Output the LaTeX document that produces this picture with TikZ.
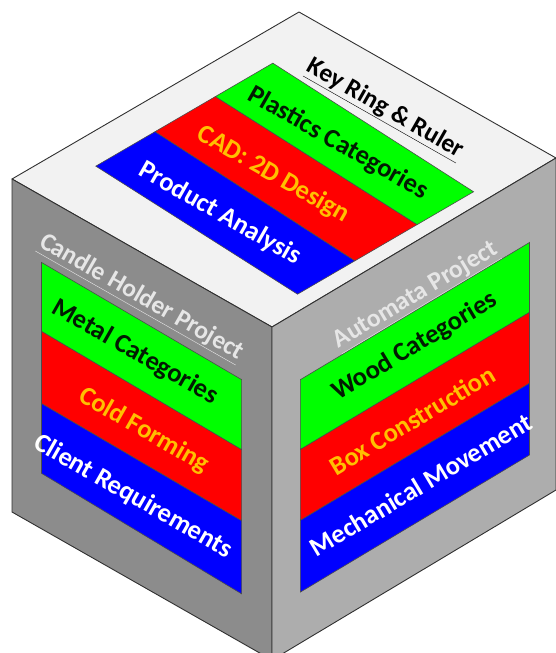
\documentclass[tikz,border=0pt]{standalone}
\usepackage{fontspec}
\setmainfont{Carlito}
\definecolor{topc}{HTML}{F2F2F2}
\definecolor{leftc}{HTML}{8C8C8C}
\definecolor{rightc}{HTML}{ADADAD}
\definecolor{gstripe}{HTML}{00FF00}
\definecolor{rstripe}{HTML}{FF0000}
\definecolor{bstripe}{HTML}{0000FF}
\definecolor{orangetxt}{HTML}{FFC000}
\definecolor{darkgtxt}{HTML}{021A02}
\definecolor{headwc}{HTML}{E6E6E6}
\definecolor{edgec}{HTML}{303030}
\begin{document}
\begin{tikzpicture}[x=1pt,y=1pt,
  face/.style={draw=edgec,line width=0.9pt,line join=round},
  gbox/.style={fill=gstripe,draw=black!70,line width=0.6pt},
  rbox/.style={fill=rstripe,draw=black!70,line width=0.6pt},
  bbox/.style={fill=bstripe,draw=black!70,line width=0.6pt},
  lbl/.style={inner sep=0pt,font=\fontsize{26.5}{30}\selectfont\bfseries},
  hlbl/.style={inner sep=0pt,font=\fontsize{25.5}{30}\selectfont\bfseries},
  gtxt/.style={lbl,text=darkgtxt},
  rtxt/.style={lbl,text=orangetxt},
  btxt/.style={lbl,text=white},
  headw/.style={hlbl,text=headwc},
  headk/.style={hlbl,text=black},
  downrot/.style={rotate=-29.65},
  uprot/.style={rotate=30.9}]
\useasboundingbox (0,0) rectangle (556,-653);
\coordinate (T) at (299,-12);
\coordinate (L) at (12,-179);
\coordinate (F) at (272,-327);
\coordinate (R) at (556,-158);
\coordinate (LB) at (12,-512);
\coordinate (FB) at (272,-660);
\coordinate (RB) at (556,-490);
\filldraw[face,fill=topc] (L)--(T)--(R)--(F)--cycle;
\filldraw[face,fill=leftc] (L)--(F)--(FB)--(LB)--cycle;
\filldraw[face,fill=rightc] (F)--(R)--(RB)--(FB)--cycle;
% top face
\begin{scope}[cm={0.86667,-0.49333,0.95667,0.55667,(12,-179)}]
  \filldraw[bbox] (36,55) -- (282,43) -- (282,103) -- (36,117) -- cycle;
  \filldraw[rbox] (36,117) -- (282,103) -- (282,168) -- (36,180) -- cycle;
  \filldraw[gbox] (36,180) -- (282,168) -- (282,227) -- (36,240) -- cycle;
  \node[gtxt,downrot] (pc) at (154,201) {Plastics Categories};
  \node[rtxt,downrot] (cad) at (148,139) {CAD: 2D Design};
  \node[btxt,downrot] (pa) at (156,76) {Product Analysis};
  \node[headk,downrot] (kr) at (148,256) {\underline{Key Ring \& Ruler}};
\end{scope}
% left face
\begin{scope}[cm={0.86667,-0.49333,0,1.11,(12,-512)}]
  \filldraw[bbox] (34,50) -- (265,44) -- (265,110) -- (34,113) -- cycle;
  \filldraw[rbox] (34,113) -- (265,110) -- (265,174) -- (34,178) -- cycle;
  \filldraw[gbox] (34,178) -- (265,174) -- (265,237) -- (34,240) -- cycle;
  \node[headw,downrot] (ch) at (149,259) {\underline{Candle Holder Project}};
  \node[gtxt,downrot] (mc) at (142,207) {Metal Categories};
  \node[rtxt,downrot] (cf) at (152,141) {Cold Forming};
  \node[btxt,downrot] (cr) at (140,76) {Client Requirements};
\end{scope}
% right face
\begin{scope}[cm={0.94667,0.56667,0,1.10667,(272,-660)}]
  \filldraw[bbox] (30,46) rectangle (272,111);
  \filldraw[rbox] (30,111) rectangle (272,175);
  \filldraw[gbox] (30,175) rectangle (272,238);
  \node[headw,uprot] (ap) at (152,251) {\underline{Automata Project}};
  \node[gtxt,uprot] (wc) at (151,206) {Wood Categories};
  \node[rtxt,uprot] (bc) at (148,141) {Box Construction};
  \node[btxt,uprot] (mm) at (157,78) {Mechanical Movement};
\end{scope}
\end{tikzpicture}
\end{document}
